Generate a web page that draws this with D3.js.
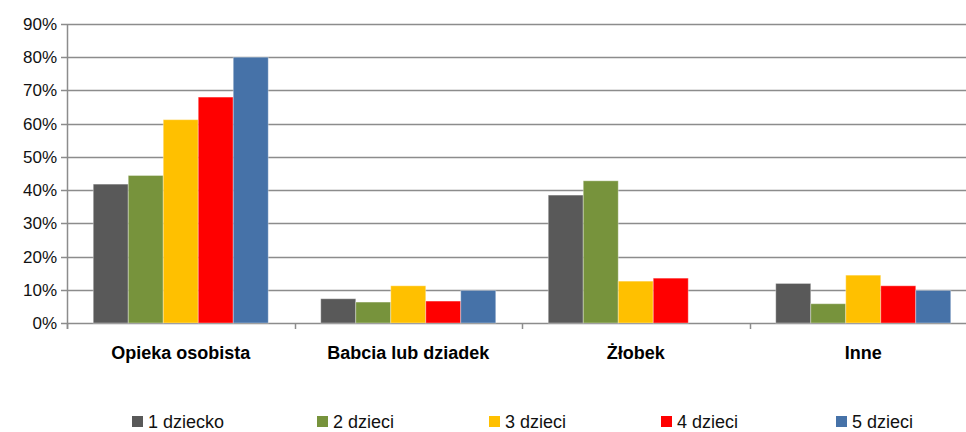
<!DOCTYPE html>
<html>
<head>
<meta charset="utf-8">
<script src="https://cdn.jsdelivr.net/npm/d3@7"></script>
<style>
  body { margin: 0; background: #fff; overflow: hidden; }
  svg { display: block; font-family: "Liberation Sans", Arial, sans-serif; }
</style>
</head>
<body>
<script>
// categories and series
const categories = ["Opieka osobista", "Babcia lub dziadek", "Żłobek", "Inne"];
const seriesNames = ["1 dziecko", "2 dzieci", "3 dzieci", "4 dzieci", "5 dzieci"];
const colors = ["#595959", "#77933C", "#FFC000", "#FF0000", "#4672A8"];

// values per series, in % (one per category)
const s1 = [41.8, 7.3, 38.5, 11.9];
const s2 = [44.4, 6.3, 42.8, 5.8];
const s3 = [61.2, 11.2, 12.6, 14.4];
const s4 = [68.0, 6.6, 13.5, 11.2];
const s5 = [80.0, 9.8, 0, 9.8];
const seriesValues = [s1, s2, s3, s4, s5];

const yTicks = [0, 10, 20, 30, 40, 50, 60, 70, 80, 90];

const width = 966, height = 432;
const plotLeft = 67, plotRight = 977, plotTop = 24, plotBottom = 323;

const svg = d3.select("body").append("svg")
    .attr("width", width)
    .attr("height", height);

const x0 = d3.scaleBand().domain(categories).range([plotLeft, plotRight]).paddingInner(0).paddingOuter(0);
const x1 = d3.scaleBand().domain(seriesNames).range([0, x0.bandwidth()]).paddingOuter(0.75).paddingInner(0);
const y = d3.scaleLinear().domain([0, 90]).range([plotBottom, plotTop]);

// gridlines
svg.append("g").selectAll("line")
    .data(yTicks)
    .enter().append("line")
    .attr("x1", plotLeft - 6)
    .attr("x2", plotRight)
    .attr("y1", d => Math.round(y(d)) + 0.5)
    .attr("y2", d => Math.round(y(d)) + 0.5)
    .attr("stroke", "#8c8c8c")
    .attr("stroke-width", 1.5);

// y axis line
svg.append("line")
    .attr("x1", plotLeft + 0.5).attr("x2", plotLeft + 0.5)
    .attr("y1", y(90)).attr("y2", plotBottom + 6)
    .attr("stroke", "#8c8c8c").attr("stroke-width", 1.5);

// category tick marks
svg.append("g").selectAll("line")
    .data(categories.concat([null]))
    .enter().append("line")
    .attr("x1", (d, i) => Math.round(plotLeft + i * x0.bandwidth()) + 0.5)
    .attr("x2", (d, i) => Math.round(plotLeft + i * x0.bandwidth()) + 0.5)
    .attr("y1", plotBottom)
    .attr("y2", plotBottom + 6)
    .attr("stroke", "#8c8c8c").attr("stroke-width", 1.5);

// y tick labels
svg.append("g").selectAll("text")
    .data(yTicks)
    .enter().append("text")
    .attr("x", 57)
    .attr("y", d => y(d) + 6)
    .attr("text-anchor", "end")
    .attr("font-size", 17)
    .attr("fill", "#111")
    .text(d => d + "%");

// bars
const groups = svg.append("g").selectAll("g")
    .data(categories)
    .enter().append("g")
    .attr("transform", d => `translate(${x0(d)},0)`);

groups.selectAll("rect")
    .data((d, ci) => seriesNames.map((name, si) => ({ name, value: seriesValues[si][ci], color: colors[si] })))
    .enter().append("rect")
    .attr("x", d => x1(d.name))
    .attr("width", x1.bandwidth())
    .attr("y", d => y(d.value))
    .attr("height", d => plotBottom - y(d.value))
    .attr("fill", d => d.color)
    .attr("stroke", d => d.value > 0 ? "rgba(255,255,255,0.35)" : "none")
    .attr("stroke-width", 1);

// category labels
svg.append("g").selectAll("text")
    .data(categories)
    .enter().append("text")
    .attr("x", d => x0(d) + x0.bandwidth() / 2)
    .attr("y", 359)
    .attr("text-anchor", "middle")
    .attr("font-size", 18)
    .attr("font-weight", "bold")
    .attr("fill", "#000")
    .text(d => d);

// legend
const legendX = [132, 317, 489, 661, 836];
const legend = svg.append("g").selectAll("g")
    .data(seriesNames)
    .enter().append("g")
    .attr("transform", (d, i) => `translate(${legendX[i]},0)`);

legend.append("rect")
    .attr("x", 0).attr("y", 416)
    .attr("width", 11).attr("height", 11)
    .attr("fill", (d, i) => colors[i]);

legend.append("text")
    .attr("x", 16)
    .attr("y", 428)
    .attr("font-size", 18)
    .attr("fill", "#111")
    .text(d => d);
</script>
</body>
</html>
